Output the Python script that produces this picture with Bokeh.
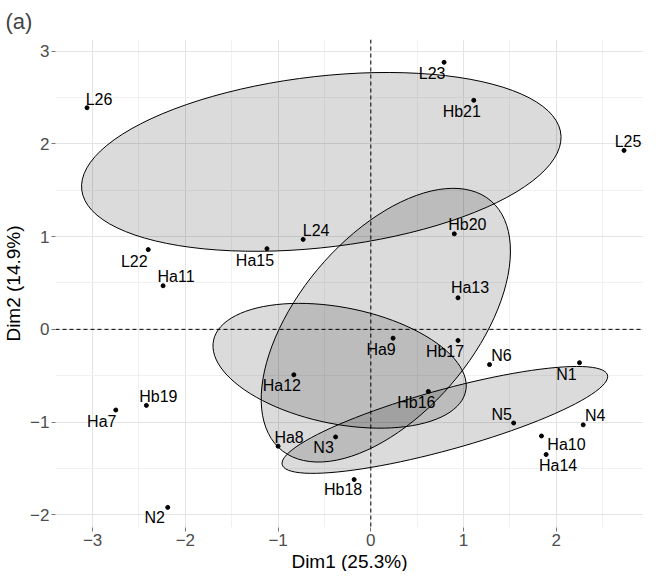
import numpy as np
from bokeh.plotting import figure
from bokeh.models import FixedTicker, Span, ColumnDataSource, Title
from bokeh.embed import file_html
from bokeh.resources import INLINE
from bokeh.core.properties import value

# ---------------- data ----------------
names = ["Ha7", "Ha8", "Ha9", "Ha10", "Ha11", "Ha12", "Ha13", "Ha14", "Ha15",
         "Hb16", "Hb17", "Hb18", "Hb19", "Hb20", "Hb21",
         "L22", "L23", "L24", "L25", "L26",
         "N1", "N2", "N3", "N4", "N5", "N6"]
groups = ["Ha"] * 9 + ["Hb"] * 6 + ["L"] * 5 + ["N"] * 6
dim1 = [-2.75, -1.00, 0.24, 1.84, -2.24, -0.83, 0.94, 1.89, -1.12,
        0.62, 0.94, -0.18, -2.42, 0.90, 1.11,
        -2.40, 0.79, -0.73, 2.73, -3.06,
        2.25, -2.19, -0.38, 2.29, 1.54, 1.28]
dim2 = [-0.87, -1.26, -0.095, -1.15, 0.47, -0.49, 0.34, -1.35, 0.87,
        -0.67, -0.12, -1.62, -0.82, 1.03, 2.47,
        0.86, 2.88, 0.97, 1.93, 2.39,
        -0.36, -1.92, -1.16, -1.03, -1.01, -0.38]
group_order = ["Ha", "Hb", "L", "N"]
x_ticks = [-3, -2, -1, 0, 1, 2, 3]
y_ticks = [-2, -1, 0, 1, 2, 3]
x_title = "Dim1 (25.3%)"
y_title = "Dim2 (14.9%)"
panel_tag = "(a)"
conf_level = 0.95

# label placement (repelled text offsets, screen pixels; layout only)
label_dx = [-14, 11, -12, 25, 13, -12, 12, 12, -12,
            -12, -13, -11, 12, 13, -12,
            -14, -12, 13, 4, 12,
            -13, -13, -12, 12, -12, 12]
label_dy = [11, -9, 11, 9, -9, 11, -10, 11, 12,
            11, 11, 10, -9, -9, 11,
            12, 11, -9, -9, -8,
            12, 10, 11, -9, -9, -9]


def conf_ellipse(xs, ys, level=0.95, npoints=100):
    """Confidence ellipse of the group barycentre (cov / n, chi-square 2 df)."""
    pts = np.column_stack([xs, ys])
    n = len(pts)
    cov = np.cov(pts, rowvar=False) / n
    c = pts.mean(axis=0)
    t = np.sqrt(-2.0 * np.log(1.0 - level))
    sx, sy = np.sqrt(np.diag(cov))
    r = cov[0, 1] / (sx * sy)
    d = np.arccos(r)
    a = np.linspace(0, 2 * np.pi, npoints)
    return c[0] + t * sx * np.cos(a + d / 2), c[1] + t * sy * np.cos(a - d / 2)


FONT = "Liberation Sans"

p = figure(width=643, height=571,
           x_range=(-3.40, 2.94), y_range=(-2.137, 3.126),
           output_backend="svg", toolbar_location=None,
           min_border_left=0, min_border_right=0,
           min_border_top=0, min_border_bottom=0,
           title=panel_tag)
p.outline_line_color = None
p.background_fill_color = "white"
p.border_fill_color = "white"

p.title.text_font = FONT
p.title.text_font_size = "22px"
p.title.text_font_style = "normal"
p.title.align = "left"
p.title.offset = -50
p.title.standoff = 12

# axes
for ax, ticks in ((p.xaxis[0], x_ticks), (p.yaxis[0], y_ticks)):
    minors = [ticks[0] - 0.5] + [t + 0.5 for t in ticks]
    ax.ticker = FixedTicker(ticks=ticks, minor_ticks=minors)
    ax.major_label_overrides = {t: str(t).replace("-", "\u2212") for t in ticks}
    ax.axis_line_color = None
    ax.major_tick_in = 0
    ax.major_tick_out = 4
    ax.major_tick_line_color = "#777777"
    ax.minor_tick_line_color = None
    ax.major_label_text_font = FONT
    ax.major_label_text_font_size = "17px"
    ax.major_label_text_color = "#4d4d4d"
    ax.major_label_standoff = 2
    ax.axis_label_text_font = FONT
    ax.axis_label_text_font_size = "19px"
    ax.axis_label_text_font_style = "normal"
    ax.axis_label_text_color = "black"
    ax.axis_label_standoff = 3
p.xaxis.major_label_standoff = 2
p.yaxis.axis_label = y_title

# x axis title as a title placed below the axis
xt = Title(text=x_title, align="center", text_font=FONT, text_font_size="19px",
           text_font_style="normal", text_color="black", standoff=0)
p.add_layout(xt, "below")

for g in (p.xgrid[0], p.ygrid[0]):
    g.grid_line_color = "#e4e4e4"
    g.grid_line_width = 1
    g.minor_grid_line_color = "#f1f1f1"
    g.minor_grid_line_width = 1

# ellipses
gx = np.array(dim1)
gy = np.array(dim2)
garr = np.array(groups)
for g in group_order:
    m = garr == g
    ex, ey = conf_ellipse(gx[m], gy[m], conf_level)
    p.patch(ex, ey, fill_color="black", fill_alpha=0.14,
            line_color="black", line_width=1)

# zero lines
p.add_layout(Span(location=0, dimension="height", line_color="black",
                  line_dash="4 3", line_width=1))
p.add_layout(Span(location=0, dimension="width", line_color="black",
                  line_dash="4 3", line_width=1))

src = ColumnDataSource(dict(x=dim1, y=dim2, name=names, dx=label_dx, dy=label_dy))
p.scatter("x", "y", source=src, size=4, color="black")
p.text("x", "y", text="name", source=src, x_offset="dx", y_offset="dy",
       text_align="center", text_baseline="middle",
       text_font=value(FONT), text_font_size="16px", text_color="black")

open("out.html", "w").write(file_html(p, INLINE))
